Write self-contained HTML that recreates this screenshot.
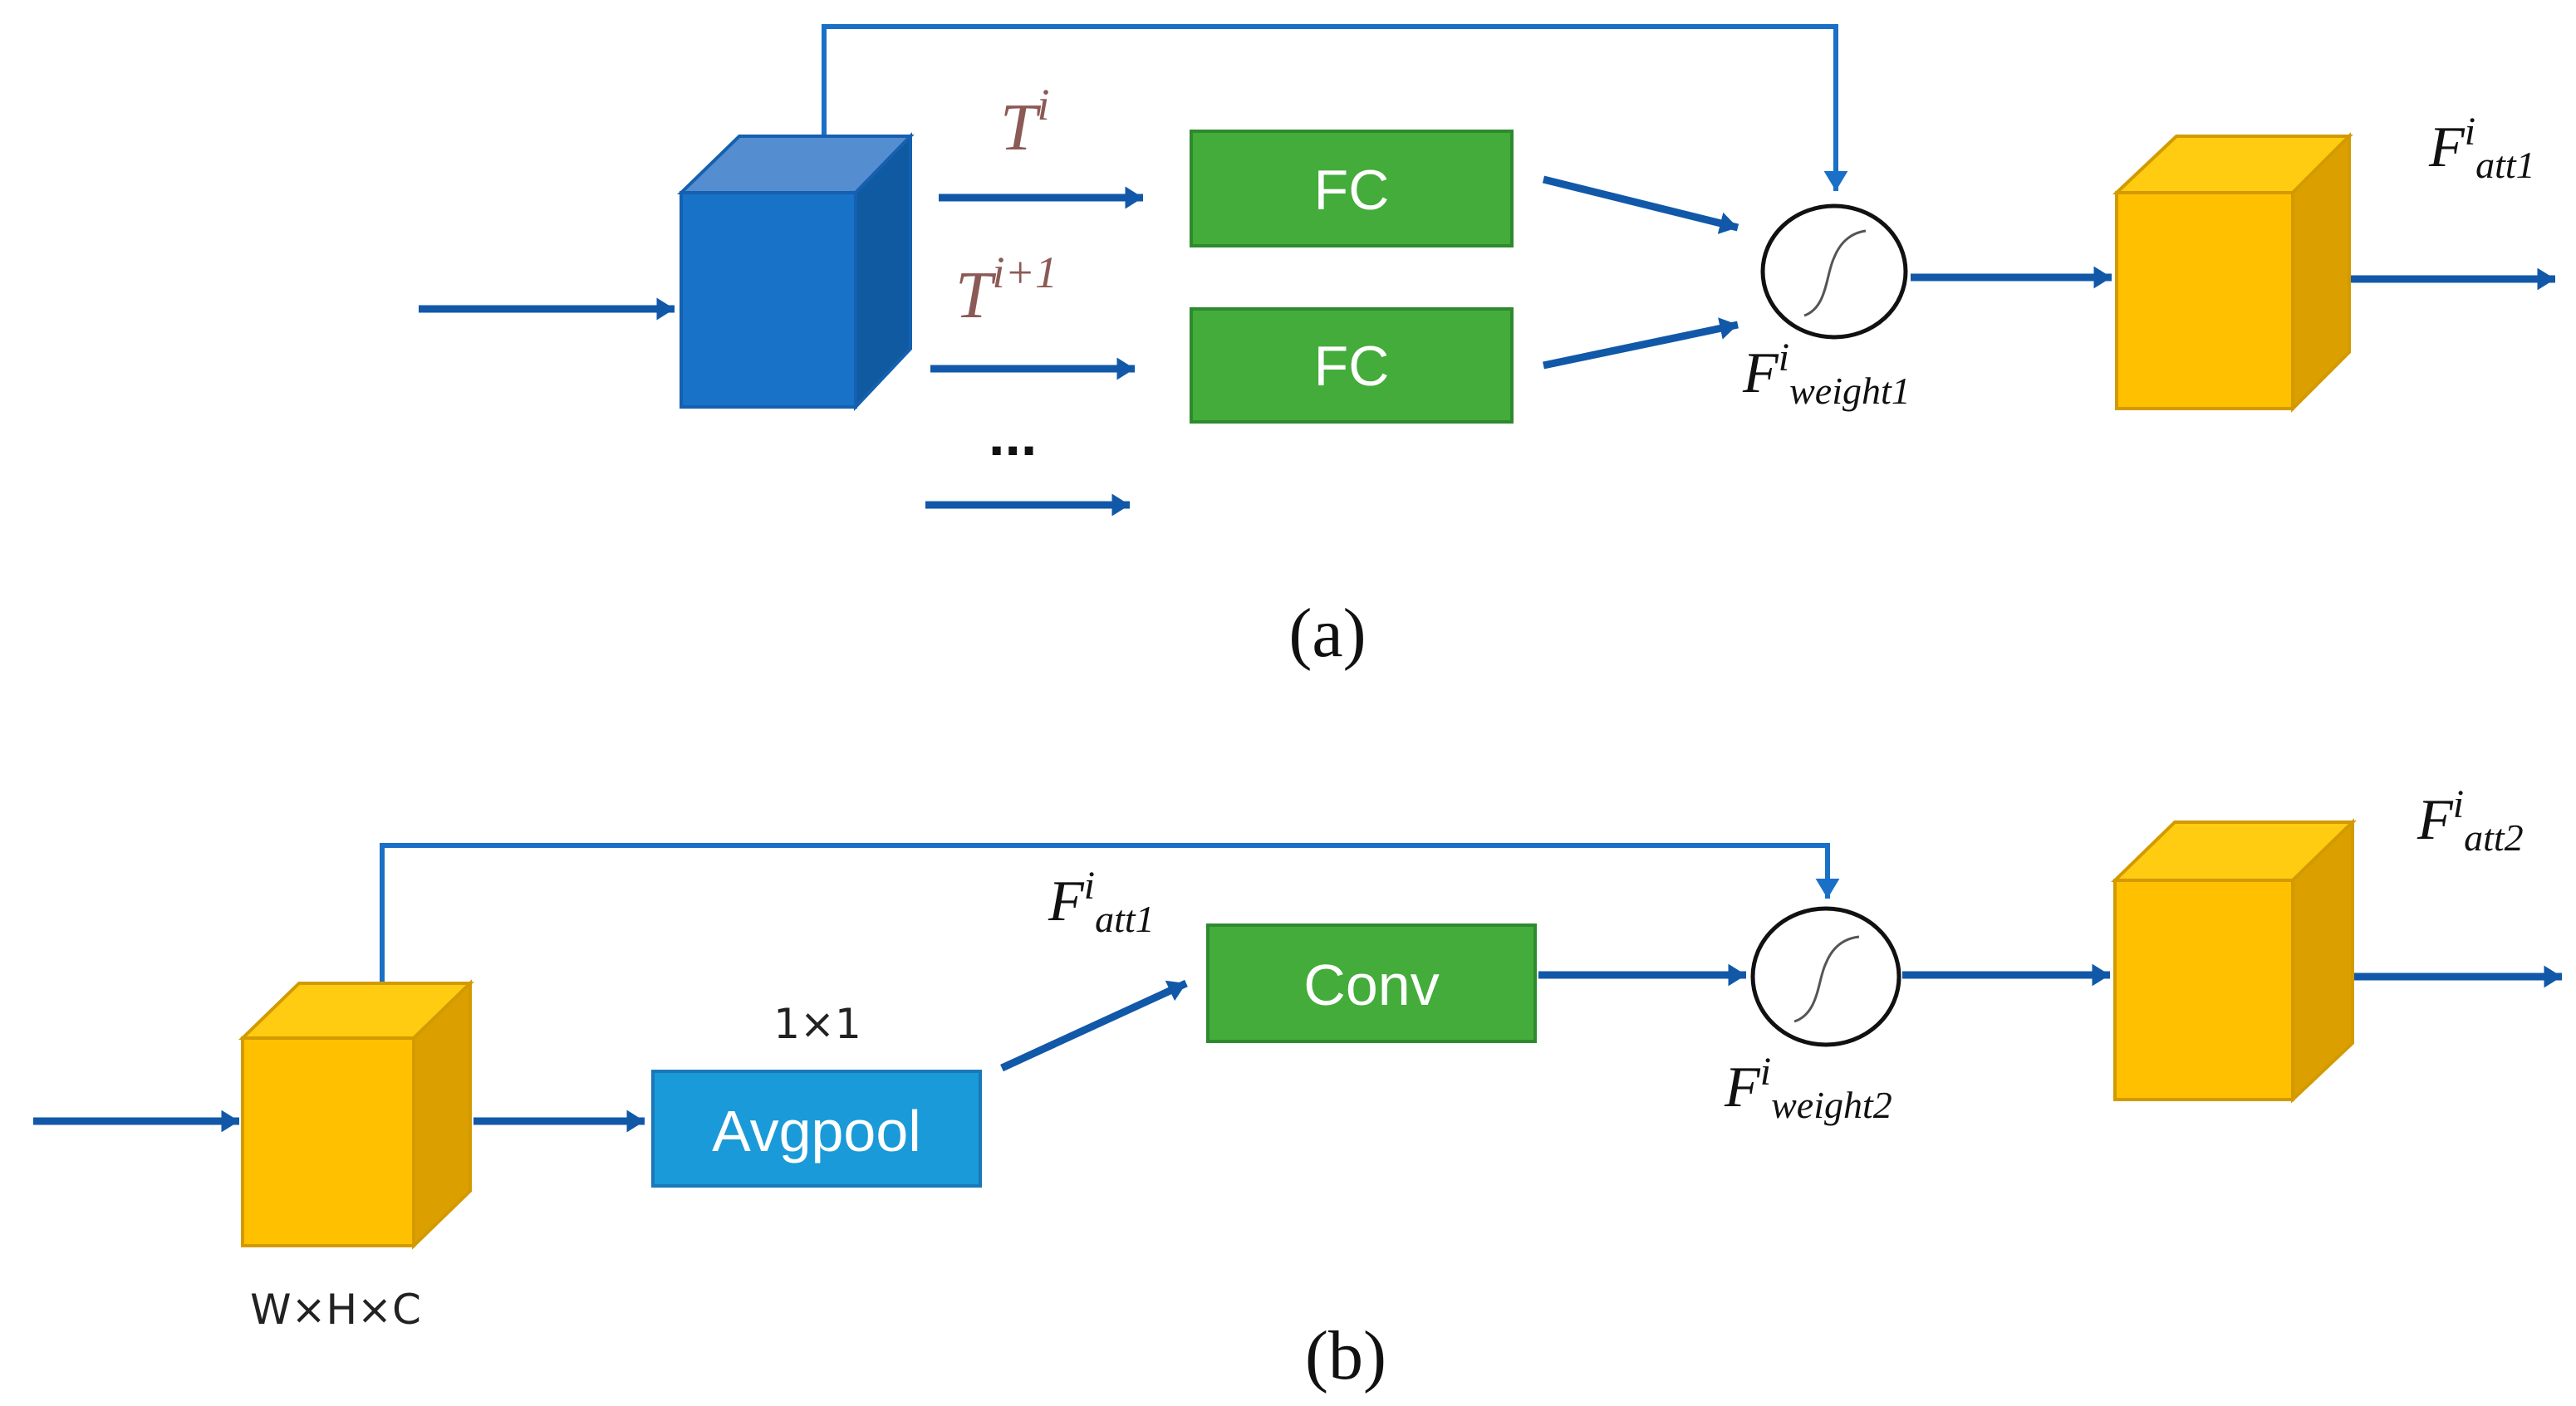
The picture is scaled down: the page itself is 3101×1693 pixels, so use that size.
<!DOCTYPE html>
<html><head><meta charset="utf-8"><style>
html,body{margin:0;padding:0;background:#fff;}
svg{display:block;}
.lbl{font-family:"Liberation Serif",serif;font-style:italic;fill:#111;}
.box{font-family:"Liberation Sans",sans-serif;fill:#fff;}
</style></head><body>
<svg width="3101" height="1693" viewBox="0 0 3101 1693" xmlns="http://www.w3.org/2000/svg">
<defs>
<marker id="ah" markerWidth="4" markerHeight="4" refX="2.4" refY="2" orient="auto" markerUnits="strokeWidth">
<path d="M0,0.5 L2.4,2 L0,3.5 Z" fill="#1158a8"/></marker>
<marker id="ht" markerWidth="6" markerHeight="6" refX="4" refY="3" orient="auto" markerUnits="strokeWidth">
<path d="M0,0.6 L4,3 L0,5.4 Z" fill="#1a6fc6"/></marker>
</defs>
<g stroke="#1158a8" stroke-width="9" fill="none" marker-end="url(#ah)">
<line x1="504" y1="372" x2="812" y2="372"/>
<line x1="1130" y1="238" x2="1376" y2="238"/>
<line x1="1120" y1="444" x2="1366" y2="444"/>
<line x1="1114" y1="608" x2="1360" y2="608"/>
<line x1="1858" y1="216" x2="2092" y2="274"/>
<line x1="1858" y1="440" x2="2092" y2="391"/>
<line x1="2300" y1="334" x2="2542" y2="334"/>
<line x1="2828" y1="336" x2="3076" y2="336"/>
<line x1="40" y1="1350" x2="288" y2="1350"/>
<line x1="570" y1="1350" x2="776" y2="1350"/>
<line x1="1206" y1="1286" x2="1428" y2="1184"/>
<line x1="1852" y1="1174" x2="2102" y2="1174"/>
<line x1="2290" y1="1174" x2="2540" y2="1174"/>
<line x1="2832" y1="1176" x2="3084" y2="1176"/>
</g>
<g stroke="#1a6fc6" stroke-width="6" fill="none">
<polyline points="992,164 992,32 2210,32 2210,230" marker-end="url(#ht)"/>
<polyline points="460,1184 460,1018 2200,1018 2200,1082" marker-end="url(#ht)"/>
</g>
<polygon points="820,232 890,164 1096,164 1030,232" fill="#548ed0" stroke="#1560b0" stroke-width="4"/>
<polygon points="1030,232 1096,164 1096,420 1030,490" fill="#0f5aa0" stroke="#1560b0" stroke-width="4"/>
<rect x="820" y="232" width="210" height="258" fill="#1872c8" stroke="#1560b0" stroke-width="4"/>
<polygon points="2548,232 2620,164 2828,164 2760,232" fill="#ffcc11" stroke="#d39a00" stroke-width="4"/>
<polygon points="2760,232 2828,164 2828,424 2760,492" fill="#dba000" stroke="#d39a00" stroke-width="4"/>
<rect x="2548" y="232" width="212" height="260" fill="#ffc000" stroke="#d39a00" stroke-width="4"/>
<polygon points="292,1250 360,1184 566,1184 498,1250" fill="#ffcc11" stroke="#d39a00" stroke-width="4"/>
<polygon points="498,1250 566,1184 566,1434 498,1500" fill="#dba000" stroke="#d39a00" stroke-width="4"/>
<rect x="292" y="1250" width="206" height="250" fill="#ffc000" stroke="#d39a00" stroke-width="4"/>
<polygon points="2546,1060 2618,990 2832,990 2760,1060" fill="#ffcc11" stroke="#d39a00" stroke-width="4"/>
<polygon points="2760,1060 2832,990 2832,1256 2760,1324" fill="#dba000" stroke="#d39a00" stroke-width="4"/>
<rect x="2546" y="1060" width="214" height="264" fill="#ffc000" stroke="#d39a00" stroke-width="4"/>
<rect x="1434" y="158" width="386" height="138" fill="#43ac3a" stroke="#2e8a2e" stroke-width="4"/>
<rect x="1434" y="372" width="386" height="136" fill="#43ac3a" stroke="#2e8a2e" stroke-width="4"/>
<rect x="1454" y="1114" width="394" height="140" fill="#43ac3a" stroke="#2e8a2e" stroke-width="4"/>
<rect x="786" y="1290" width="394" height="138" fill="#1a9ad8" stroke="#1a78b8" stroke-width="4"/>
<text class="box" x="1627" y="252" font-size="68" text-anchor="middle">FC</text>
<text class="box" x="1627" y="464" font-size="68" text-anchor="middle">FC</text>
<text class="box" x="1651" y="1210" font-size="70" text-anchor="middle">Conv</text>
<text class="box" x="983" y="1386" font-size="70" text-anchor="middle">Avgpool</text>
<ellipse cx="2208" cy="327" rx="86" ry="79" fill="#fff" stroke="#111" stroke-width="5"/>
<path d="M2172,380 C2200,370 2198,330 2208,310 C2216,290 2230,280 2246,278" stroke="#555" stroke-width="3" fill="none"/>
<ellipse cx="2198" cy="1176" rx="88" ry="82" fill="#fff" stroke="#111" stroke-width="5"/>
<path d="M2160,1230 C2190,1220 2188,1180 2198,1160 C2206,1140 2220,1130 2238,1128" stroke="#555" stroke-width="3" fill="none"/>
<text x="1204" y="180" font-family="Liberation Serif,serif" font-style="italic" font-size="80" fill="#8b5a56">T<tspan dy="-36" font-size="54">i</tspan></text>
<text x="1150" y="382" font-family="Liberation Serif,serif" font-style="italic" font-size="80" fill="#8b5a56">T<tspan dy="-36" font-size="54">i+1</tspan></text>
<text x="1190" y="548" font-family="Liberation Sans,sans-serif" font-weight="bold" font-size="70" fill="#111">...</text>
<text class="lbl" x="2924" y="200" font-size="70">F<tspan dy="-26" font-size="48">i</tspan><tspan dy="40" font-size="46">att1</tspan></text>
<text class="lbl" x="2098" y="472" font-size="70">F<tspan dy="-26" font-size="48">i</tspan><tspan dy="40" font-size="46">weight1</tspan></text>
<text class="lbl" x="2910" y="1010" font-size="70">F<tspan dy="-26" font-size="48">i</tspan><tspan dy="40" font-size="46">att2</tspan></text>
<text class="lbl" x="2076" y="1332" font-size="70">F<tspan dy="-26" font-size="48">i</tspan><tspan dy="40" font-size="46">weight2</tspan></text>
<text class="lbl" x="1262" y="1108" font-size="70">F<tspan dy="-26" font-size="48">i</tspan><tspan dy="40" font-size="46">att1</tspan></text>
<text x="984" y="1250" font-family="DejaVu Sans,sans-serif" font-size="50" fill="#222" text-anchor="middle">1×1</text>
<text x="404" y="1594" font-family="DejaVu Sans,sans-serif" font-size="50" fill="#222" text-anchor="middle">W×H×C</text>
<text x="1598" y="790" font-family="Liberation Serif,serif" font-size="84" fill="#111" text-anchor="middle">(a)</text>
<text x="1620" y="1660" font-family="Liberation Serif,serif" font-size="84" fill="#111" text-anchor="middle">(b)</text>
</svg>
</body></html>
